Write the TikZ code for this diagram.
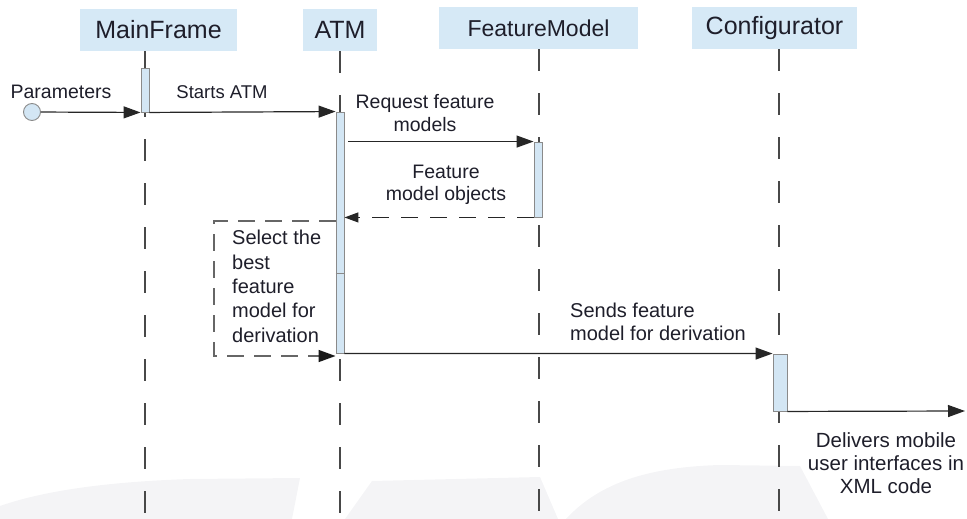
\documentclass[tikz,border=0pt]{standalone}
\usepackage{fontspec}
\setmainfont{Liberation Sans}
\usetikzlibrary{arrows.meta}

\definecolor{hdrblue}{HTML}{D6E9F6}
\definecolor{barblue}{HTML}{D3E6F4}
\definecolor{bargray}{HTML}{8A8A8A}
\definecolor{lifegray}{HTML}{484848}
\definecolor{txt}{HTML}{1E1E2A}
\definecolor{wmark}{HTML}{F4F4F6}

\tikzset{
  hdr/.style={fill=hdrblue, draw=none, inner sep=0, minimum height=42pt,
    font=\fontsize{25}{30}\selectfont, text=txt},
  lifeline/.style={draw=lifegray, line width=1.3pt, dash pattern=on 22pt off 22pt},
  actbar/.style={draw=bargray, fill=barblue, line width=0.9pt, inner sep=0,
    minimum width=8pt},
  msg/.style={draw=black!85, line width=1.2pt,
    -{Triangle[length=17pt,width=12pt]}},
  retmsg/.style={draw=black!85, line width=1.2pt, dash pattern=on 17pt off 12pt,
    -{Triangle[length=14pt,width=10pt]}},
  selfmsg/.style={draw=black!60, line width=1.4pt, dash pattern=on 17pt off 10pt,
    -{Triangle[length=17pt,width=12pt,color=black!90]}},
  lbl/.style={inner sep=0, text=txt, font=\fontsize{19.5}{23.5}\selectfont},
  start/.style={circle, draw=bargray, fill=barblue, line width=0.9pt,
    minimum size=17pt, inner sep=0},
}

\begin{document}
\begin{tikzpicture}[x=1pt,y=-1pt]
\useasboundingbox (0,0) rectangle (967,519);

% faint background shapes along the bottom edge
\fill[wmark] (0,519) -- (0,506) .. controls (40,492) and (100,482) .. (190,479)
  -- (300,478) -- (292,519) -- cycle;
\fill[wmark] (345,519) -- (372,481) -- (540,477) -- (558,519) -- cycle;
\fill[wmark] (566,519) .. controls (600,482) and (650,467) .. (720,465)
  -- (800,466) -- (828,519) -- cycle;

% lifeline heads
\node[hdr, minimum width=157pt] (mf)  at (158.5,30) {MainFrame};
\node[hdr, minimum width=74pt]  (atm) at (340,30)   {ATM};
\node[hdr, minimum width=199pt, font=\fontsize{23}{28}\selectfont] (fm) at (538.5,28) {FeatureModel};
\node[hdr, minimum width=165pt] (cfg) at (774.5,28) {Configurator};

% lifeline ends
\coordinate (mfB)  at (145,519);
\coordinate (atmB) at (340,519);
\coordinate (fmB)  at (539,519);
\coordinate (cfgB) at (779,519);

\draw[lifeline] (mf.south -| mfB) -- (mfB);
\draw[lifeline] (atm.south -| atmB) -- (atmB);
\draw[lifeline] (fm.south -| fmB) -- (fmB);
\draw[lifeline] (cfg.south -| cfgB) -- (cfgB);

% activation bars
\node[actbar, minimum height=44pt]  (mfbar)  at (145,90) {};
\node[actbar, minimum height=241pt] (atmbar) at (340,232.5) {};
\draw[bargray, line width=0.9pt] (atmbar.west |- 0,273) -- (atmbar.east |- 0,273);
\node[actbar, minimum height=75pt]  (fmbar)  at (538,179.5) {};
\node[actbar, minimum width=14pt, minimum height=57pt] (cfgbar) at (780,382.5) {};

% start point
\node[start] (param) at (32,112) {};

% messages
\draw[msg] (param) -- (mfbar.south west);
\draw[msg] (mfbar.south east) -- (atmbar.north west);
\draw[msg] ([xshift=4pt]atmbar.east |- fmbar.north) -- (fmbar.north west);
\draw[retmsg] (fmbar.south west) -- (atmbar.east |- fmbar.south);

\coordinate (selfA) at (214,221);
\coordinate (selfB) at (214,356);
\draw[selfmsg] (atmbar.west |- selfA) -- (selfA) -- (selfB) -- (atmbar.west |- selfB);

\draw[msg] (atmbar.south east) -- (cfgbar.north west);
\coordinate (out) at (965,411);
\draw[msg] (cfgbar.south east) -- (out);

% message labels (base anchor of a multi-line node sits on its last line)
\node[lbl, anchor=base] (lparam) at (61,99) {Parameters};
\node[lbl, anchor=base, font=\fontsize{18.5}{22}\selectfont] (lstart) at (222,99) {Starts ATM};
\node[lbl, anchor=base, align=center, font=\fontsize{19.5}{22}\selectfont] (lreq) at (425,131) {Request feature\\models};
\node[lbl, anchor=base, align=center, font=\fontsize{19.5}{22}\selectfont] (lret) at (446,200) {Feature\\model objects};
\node[lbl, anchor=base west, align=left, font=\fontsize{20}{24.3}\selectfont] (lsel) at (232,342) {Select the\\best\\feature\\model for\\derivation};
\node[lbl, anchor=base west, align=left, font=\fontsize{20}{23}\selectfont] (lsend) at (570,340) {Sends feature\\model for derivation};
\node[lbl, anchor=base, align=center, font=\fontsize{20.5}{23}\selectfont] (lout) at (886,493) {Delivers mobile\\user interfaces in\\XML code};
\end{tikzpicture}
\end{document}
